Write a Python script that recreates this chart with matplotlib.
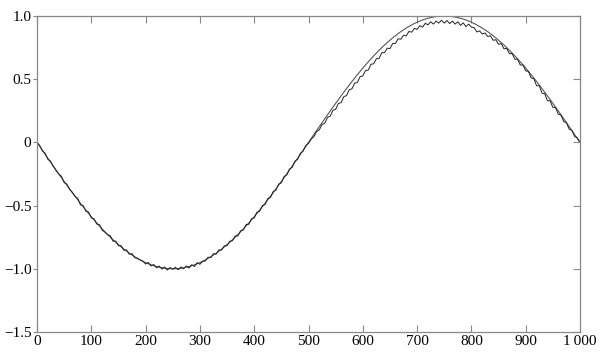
import matplotlib
matplotlib.use("Agg")
import matplotlib.pyplot as plt
import numpy as np

plt.rcParams["font.family"] = ["Liberation Serif", "DejaVu Serif"]

# smooth reference curve, sampled every 10 units
x_smooth = np.arange(0, 1001, 10)
y_smooth = [
    0.0, -0.0628, -0.1253, -0.1874, -0.2487, -0.3090, -0.3681, -0.4258, -0.4818, -0.5358,
    -0.5878, -0.6374, -0.6845, -0.7290, -0.7705, -0.8090, -0.8443, -0.8763, -0.9048, -0.9298,
    -0.9511, -0.9686, -0.9823, -0.9921, -0.9980, -1.0, -0.9980, -0.9921, -0.9823, -0.9686,
    -0.9511, -0.9298, -0.9048, -0.8763, -0.8443, -0.8090, -0.7705, -0.7290, -0.6845, -0.6374,
    -0.5878, -0.5358, -0.4818, -0.4258, -0.3681, -0.3090, -0.2487, -0.1874, -0.1253, -0.0628,
    0.0, 0.0628, 0.1253, 0.1874, 0.2487, 0.3090, 0.3681, 0.4258, 0.4818, 0.5358,
    0.5878, 0.6374, 0.6845, 0.7290, 0.7705, 0.8090, 0.8443, 0.8763, 0.9048, 0.9298,
    0.9511, 0.9686, 0.9823, 0.9921, 0.9980, 1.0, 0.9980, 0.9921, 0.9823, 0.9686,
    0.9511, 0.9298, 0.9048, 0.8763, 0.8443, 0.8090, 0.7705, 0.7290, 0.6845, 0.6374,
    0.5878, 0.5358, 0.4818, 0.4258, 0.3681, 0.3090, 0.2487, 0.1874, 0.1253, 0.0628,
    0.0,
]

# noisy measured curve, sampled every 5 units
x_noisy = np.arange(0, 1001, 5)
y_noisy = [
    0.000, -0.024, -0.068, -0.086, -0.134, -0.148, -0.190, -0.222, -0.250, -0.268,
    -0.318, -0.330, -0.372, -0.395, -0.428, -0.442, -0.494, -0.500, -0.545, -0.550,
    -0.598, -0.604, -0.646, -0.650, -0.694, -0.710, -0.730, -0.738, -0.782, -0.780,
    -0.818, -0.817, -0.854, -0.850, -0.885, -0.880, -0.912, -0.918, -0.930, -0.940,
    -0.962, -0.950, -0.978, -0.966, -0.992, -0.978, -1.002, -0.986, -1.010, -0.990,
    -1.004, -0.988, -1.008, -0.986, -1.000, -0.978, -0.994, -0.968, -0.982, -0.952,
    -0.964, -0.942, -0.938, -0.908, -0.912, -0.880, -0.884, -0.850, -0.852, -0.818,
    -0.818, -0.782, -0.778, -0.740, -0.740, -0.698, -0.694, -0.650, -0.648, -0.604,
    -0.598, -0.552, -0.546, -0.500, -0.492, -0.444, -0.436, -0.388, -0.378, -0.330,
    -0.320, -0.270, -0.258, -0.210, -0.198, -0.148, -0.134, -0.086, -0.070, -0.024,
    -0.008, 0.026, 0.046, 0.086, 0.100, 0.142, 0.152, 0.198, 0.208, 0.254,
    0.262, 0.308, 0.314, 0.362, 0.370, 0.416, 0.424, 0.468, 0.474, 0.520,
    0.526, 0.568, 0.572, 0.618, 0.622, 0.662, 0.664, 0.710, 0.710, 0.746,
    0.742, 0.782, 0.782, 0.820, 0.816, 0.848, 0.842, 0.878, 0.872, 0.902,
    0.894, 0.924, 0.912, 0.942, 0.930, 0.954, 0.936, 0.960, 0.944, 0.966,
    0.944, 0.964, 0.940, 0.960, 0.936, 0.954, 0.926, 0.946, 0.916, 0.936,
    0.912, 0.908, 0.874, 0.882, 0.858, 0.866, 0.838, 0.844, 0.808, 0.812,
    0.776, 0.782, 0.740, 0.744, 0.702, 0.703, 0.658, 0.659, 0.612, 0.613,
    0.566, 0.562, 0.510, 0.505, 0.448, 0.448, 0.390, 0.385, 0.330, 0.329,
    0.277, 0.275, 0.223, 0.216, 0.165, 0.156, 0.105, 0.096, 0.047, 0.036,
    0.000,
]

x_ticks = [0, 100, 200, 300, 400, 500, 600, 700, 800, 900, 1000]
x_labels = ["0", "100", "200", "300", "400", "500", "600", "700", "800", "900", "1\u2009000"]
y_ticks = [1.0, 0.5, 0.0, -0.5, -1.0, -1.5]
y_labels = ["1.0", "0.5", "0", "\u22120.5", "\u22121.0", "\u22121.5"]

fig = plt.figure(figsize=(6.08, 3.57), dpi=100)
ax = fig.add_axes([37 / 608, 25 / 357, 543 / 608, 316 / 357])

ax.plot(x_smooth, y_smooth, color="#555555", lw=0.8)
ax.plot(x_noisy, y_noisy, color="#222222", lw=0.7)

ax.set_xlim(0, 1000)
ax.set_ylim(-1.5, 1.0)

ax.set_xticks(x_ticks)
ax.set_xticklabels(x_labels, fontsize=11)
ax.set_yticks(y_ticks)
ax.set_yticklabels(y_labels, fontsize=11)

for sp in ax.spines.values():
    sp.set_color("#888888")
    sp.set_linewidth(0.9)

ax.tick_params(axis="x", direction="in", length=5, width=0.8, color="#888888",
               top=True, pad=2)
ax.tick_params(axis="y", direction="out", length=3, width=0.8, color="#888888", pad=1)

# right side ticks point inward
ax2 = ax.twinx()
ax2.set_ylim(ax.get_ylim())
ax2.set_yticks(y_ticks)
ax2.set_yticklabels([])
ax2.tick_params(axis="y", direction="in", length=5, width=0.8, color="#888888")
for sp in ax2.spines.values():
    sp.set_visible(False)

fig.savefig("out.png", dpi=100)
